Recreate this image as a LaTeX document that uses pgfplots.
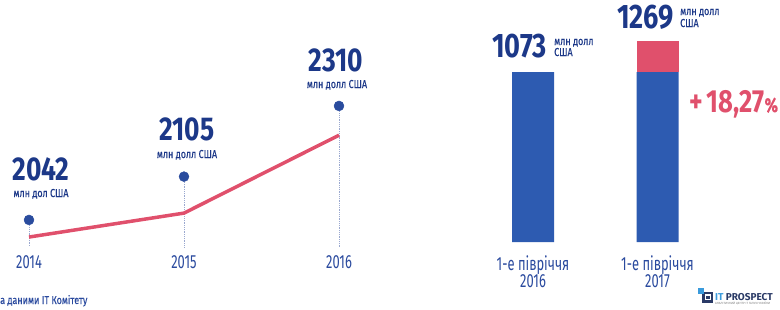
\documentclass[border=0pt]{standalone}
\usepackage{fontspec}
\setmainfont{Fira Sans}[FakeStretch=0.68]
\newfontfamily\numfont{Fira Sans}[FakeStretch=0.8]
\newfontfamily\smallfont{Fira Sans}[FakeStretch=0.78, FakeBold=0.3]
\newfontfamily\logofont{Fira Sans}
\usepackage{pgfplots}
\pgfplotsset{compat=1.18}
\definecolor{navy}{HTML}{1C3888}
\definecolor{yearcol}{HTML}{2A4A9E}
\definecolor{barblue}{HTML}{2D5BB1}
\definecolor{pinkc}{HTML}{E0506C}
\definecolor{dotblue}{HTML}{2A4C9E}
\definecolor{dotcol}{HTML}{9AA8CF}
\definecolor{logolb}{HTML}{3A9BDC}
\definecolor{logodk}{HTML}{2A3A66}
\begin{document}
\begin{tikzpicture}[x=1pt,y=1pt]
% ---------- left: line chart ----------
\begin{axis}[at={(29pt,56pt)}, anchor=south west, scale only axis,
  width=310pt, height=152pt,
  xmin=2014, xmax=2016, ymin=2000, ymax=2400, clip=false,
  axis line style={draw=none}, major tick length=0pt,
  ytick=\empty, xtick={2014,2015,2016}, xticklabels={2014,2015,2016},
  xticklabel style={anchor=base, inner sep=0pt, yshift=-15pt,
    font=\fontsize{19}{19}\selectfont, text=yearcol}]
\addplot[dotcol, densely dotted, line width=0.8pt] coordinates {(2014,2087)(2014,2016)};
\addplot[dotcol, densely dotted, line width=0.8pt] coordinates {(2015,2201)(2015,2016)};
\addplot[dotcol, densely dotted, line width=0.8pt] coordinates {(2016,2387)(2016,2016)};
\addplot[pinkc, line width=3.5pt, line join=round] coordinates {(2014,2042)(2015,2105)(2016,2310)};
\addplot[only marks, mark=*, mark size=5pt, dotblue, mark options={draw=none, fill=dotblue}]
  coordinates {(2014,2087)(2015,2201)(2016,2387)};
\end{axis}
% ---------- right: bars ----------
\begin{axis}[at={(533pt,67pt)}, anchor=south west, scale only axis,
  width=124.5pt, height=205.9pt,
  xmin=0, xmax=1, ymin=0, ymax=1300, clip=false,
  ybar stacked, bar width=42pt,
  axis line style={draw=none}, major tick length=0pt,
  ytick=\empty, xtick={0,1},
  xticklabels={{1-е півріччя\\2016},{1-е півріччя\\2017}},
  xticklabel style={align=center, anchor=north, inner sep=0pt, yshift=-13pt,
    font=\fontsize{19}{16}\selectfont, text=yearcol}]
\addplot[fill=barblue, draw=none] coordinates {(0,1073)(1,1073)};
\addplot[fill=pinkc, draw=none] coordinates {(0,0)(1,196)};
\end{axis}
% ---------- value labels ----------
\begin{scope}[every node/.style={inner sep=0pt}]
\node[anchor=base, text=navy, font=\numfont\bfseries\fontsize{33}{33}\selectfont] at (41,129) {2042};
\node[anchor=base, text=navy, font=\smallfont\fontsize{11.5}{12}\selectfont] at (41,112) {млн дол США};
\node[anchor=base, text=navy, font=\numfont\bfseries\fontsize{33}{33}\selectfont] at (187,169) {2105};
\node[anchor=base, text=navy, font=\smallfont\fontsize{11.5}{12}\selectfont] at (187,151) {млн долл США};
\node[anchor=base, text=navy, font=\numfont\bfseries\fontsize{33}{33}\selectfont] at (336,238) {2310};
\node[anchor=base, text=navy, font=\smallfont\fontsize{11.5}{12}\selectfont] at (337,221) {млн долл США};
\node[anchor=base west, text=navy, font=\numfont\bfseries\fontsize{34}{34}\selectfont] at (492,252) {1073};
\node[anchor=base west, text=navy, font=\smallfont\fontsize{11.5}{12}\selectfont] at (554,264) {млн долл};
\node[anchor=base west, text=navy, font=\smallfont\fontsize{11.5}{12}\selectfont] at (554,253) {США};
\node[anchor=base west, text=navy, font=\numfont\bfseries\fontsize{34}{34}\selectfont] at (617,281) {1269};
\node[anchor=base west, text=navy, font=\smallfont\fontsize{11.5}{12}\selectfont] at (680,294) {млн долл};
\node[anchor=base west, text=navy, font=\smallfont\fontsize{11.5}{12}\selectfont] at (680,282) {США};
\node[anchor=base west, text=pinkc, font=\numfont\bfseries\fontsize{32}{32}\selectfont] at (689,197) {+\hspace{4pt}18,27{\smallfont\fontsize{20}{20}\selectfont\%}};
% footnote
\node[anchor=base west, text=yearcol, font=\smallfont\fontsize{11.5}{11}\selectfont] at (0,5) {а даними IT Комітету};
% logo
\draw[logodk, line width=2.2pt] (703.5,7.5) rectangle (712,16);
\fill[logodk] (706,10) rectangle (709.5,13.5);
\fill[logolb] (698,15) rectangle (704,21);
\node[anchor=base west, font=\logofont\bfseries\fontsize{10}{10}\selectfont] at (715,9) {\textcolor{logolb}{IT} \textcolor{logodk}{PROSPECT}};
\node[anchor=base west, text=gray, font=\logofont\fontsize{3}{3}\selectfont] at (715,4.5) {АНАЛІТИЧНИЙ ЦЕНТР IT ГАЛУЗІ УКРАЇНИ};
\end{scope}
\pgfresetboundingbox
\path[use as bounding box] (0,0) rectangle (780,309);
\end{tikzpicture}
\end{document}
